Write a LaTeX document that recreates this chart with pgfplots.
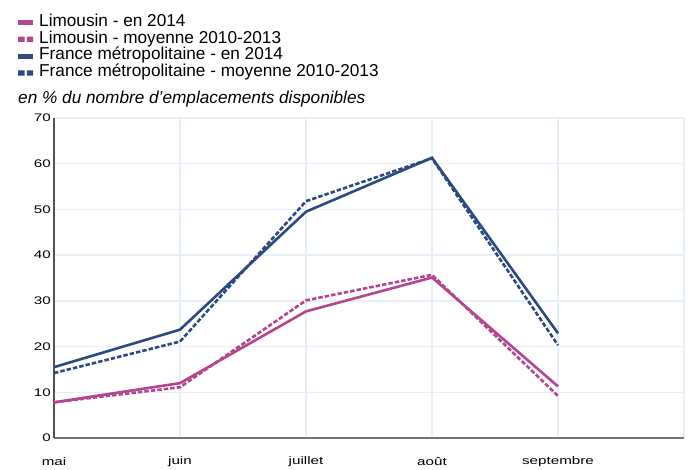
\documentclass[border=0pt]{standalone}
\usepackage{pgfplots}
\pgfplotsset{compat=1.18}
\usepackage{fontspec}
\setmainfont{Liberation Sans}
\usepackage{graphicx}
\definecolor{lim}{HTML}{B2468F}
\definecolor{fra}{HTML}{2C4A7E}
\definecolor{gridc}{HTML}{E6EEF7}
\newcommand\sx[1]{\scalebox{1.38}[1]{#1}}
\begin{document}
\begin{tikzpicture}
\path[use as bounding box] (0pt,0pt) rectangle (689pt,-470pt);
\begin{axis}[
  at={(54pt,-438pt)}, anchor=south west,
  scale only axis, width=630pt, height=320pt,
  xmin=0, xmax=5, ymin=0, ymax=70,
  xtick={0,1,2,3,4,5}, xticklabels={\sx{mai},\sx{juin},\sx{juillet},\sx{août},\sx{septembre},},
  ytick={0,10,...,70},
  yticklabel={\sx{\pgfmathprintnumber{\tick}}},
  /pgf/number format/assume math mode=true,
  grid=major, major grid style={gridc, line width=1.3pt},
  major tick length=0pt,
  axis lines=left, axis line style={-},
  x axis line style={draw=black!55, line width=2pt},
  y axis line style={draw=black!68, line width=2pt},
  xticklabel style={font=\fontsize{11}{13}\selectfont, anchor=center, yshift=-24pt},
  yticklabel style={font=\fontsize{11}{13}\selectfont, anchor=east, inner sep=0pt, xshift=-3pt},
  clip=false,
  legend cell align=left,
  legend style={at={(-0.0571,1.326)}, anchor=north west, draw=none, fill=none,
    inner sep=0pt, font=\fontsize{17.2}{19}\selectfont, column sep=6pt,
    nodes={inner sep=0pt, text height=12.3pt, text depth=4.6pt}},
]
\addplot[lim, line width=2.6pt, legend image code/.code={\path[fill=lim, draw=none, solid] (0pt,-2.6pt) rectangle (15pt,2.6pt);}]
  coordinates {(0,7.8) (1,12.0) (2,27.7) (3,35.1) (4,11.3)};
\addlegendentry{Limousin - en 2014}
\addplot[lim, line width=2.6pt, dash pattern=on 4.5pt off 2pt, legend image code/.code={\path[fill=lim, draw=none, solid] (0pt,-2.6pt) rectangle (6.3pt,2.6pt) (8.7pt,-2.6pt) rectangle (15pt,2.6pt);}]
  coordinates {(0,7.8) (1,11.1) (2,30.1) (3,35.7) (4,9.2)};
\addlegendentry{Limousin - moyenne 2010-2013}
\addplot[fra, line width=2.6pt, legend image code/.code={\path[fill=fra, draw=none, solid] (0pt,-2.6pt) rectangle (15pt,2.6pt);}]
  coordinates {(0,15.5) (1,23.7) (2,49.5) (3,61.3) (4,22.9)};
\addlegendentry{France métropolitaine - en 2014}
\addplot[fra, line width=2.6pt, dash pattern=on 4.5pt off 2pt, legend image code/.code={\path[fill=fra, draw=none, solid] (0pt,-2.6pt) rectangle (6.3pt,2.6pt) (8.7pt,-2.6pt) rectangle (15pt,2.6pt);}]
  coordinates {(0,14.2) (1,21.1) (2,51.8) (3,61.2) (4,20.3)};
\addlegendentry{France métropolitaine - moyenne 2010-2013}
\node[anchor=west, inner sep=0pt, font=\fontsize{17.2}{19}\selectfont\itshape] at (rel axis cs:-0.0571,1.059) {en \% du nombre d'emplacements disponibles};
\end{axis}
\end{tikzpicture}
\end{document}
